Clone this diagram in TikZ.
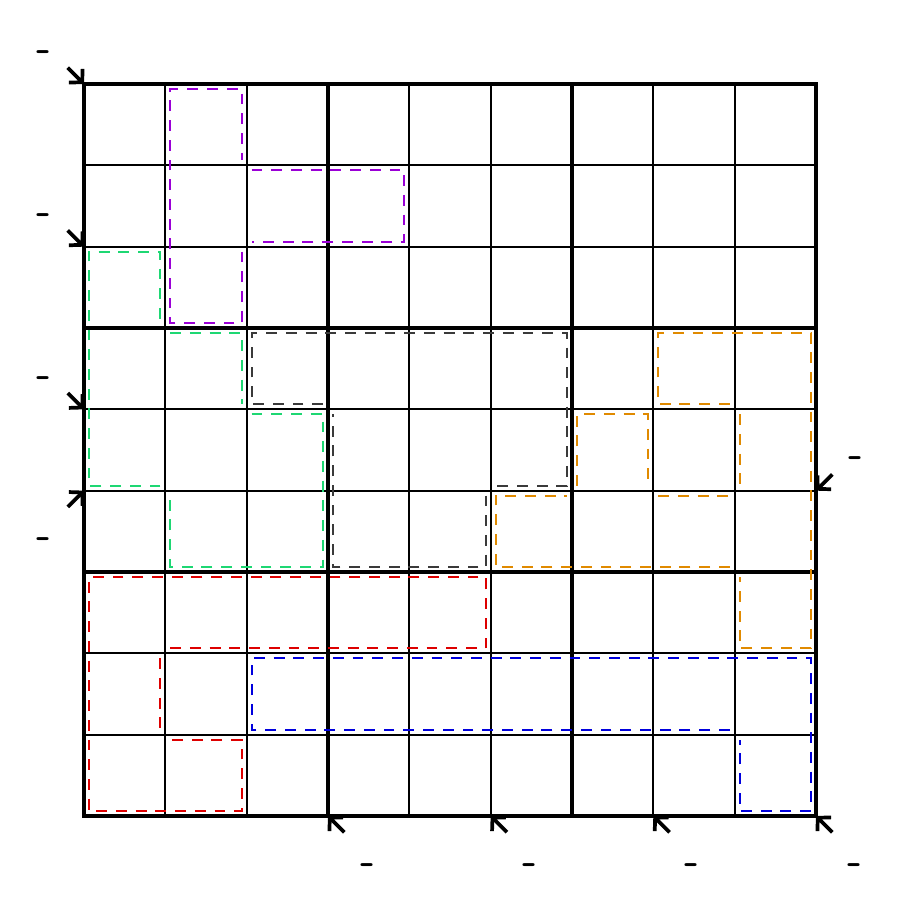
\documentclass[tikz,border=0pt]{standalone}
\usepackage{tikz}
\usetikzlibrary{arrows.meta}
\usepackage{xcolor}
\definecolor{cgpurple}{HTML}{9A00D6}
\definecolor{cggreen}{HTML}{1ED773}
\definecolor{cggray}{HTML}{3A3A3A}
\definecolor{cgorange}{HTML}{E08A00}
\definecolor{cgred}{HTML}{DD0000}
\definecolor{cgblue}{HTML}{0000DD}
\tikzset{
  cellln/.style={line width=0.7pt,color=black},
  boxln/.style={line width=1.7pt,color=black},
  cage/.style={draw=#1,line width=0.7pt,dash pattern=on 3.8pt off 3.1pt},
  clue/.style={line width=1.3pt,color=black,
               -{Straight Barb[length=3.2pt,width=6.8pt]}},
  sumlbl/.style={font=\sffamily\bfseries\Large,inner sep=0pt},
}

\begin{document}
\begin{tikzpicture}[x=1cm,y=1cm]
  \useasboundingbox (-1.033,-1.033) rectangle (10.033,10.033);

  % grid
  \draw[cellln] (0,0) grid (9,9);
  \draw[boxln] (0,0) grid[step=3] (9,9);
  \draw[boxln] (0,0) rectangle (9,9);

  % cages
  \draw[cage=cgpurple] (2.06,7.94) -- (3.94,7.94) -- (3.94,7.06) -- (2.06,7.06)
    (1.94,6.94) -- (1.94,6.06) -- (1.06,6.06) -- (1.06,8.94) -- (1.94,8.94) -- (1.94,8.06);
  \draw[cage=cggreen] (1.06,5.94) -- (1.94,5.94) -- (1.94,5.06)
    (2.06,4.94) -- (2.94,4.94) -- (2.94,3.06) -- (1.06,3.06) -- (1.06,3.94)
    (0.94,4.06) -- (0.06,4.06) -- (0.06,6.94) -- (0.94,6.94) -- (0.94,6.06);
  \draw[cage=cggray] (4.94,3.94) -- (4.94,3.06) -- (3.06,3.06) -- (3.06,4.94)
    (2.94,5.06) -- (2.06,5.06) -- (2.06,5.94) -- (5.94,5.94) -- (5.94,4.06) -- (5.06,4.06);
  \draw[cage=cgorange] (7.94,3.06) -- (5.06,3.06) -- (5.06,3.94) -- (5.94,3.94)
    (6.06,4.06) -- (6.06,4.94) -- (6.94,4.94) -- (6.94,4.06)
    (7.94,5.06) -- (7.06,5.06) -- (7.06,5.94) -- (8.94,5.94) -- (8.94,2.06) -- (8.06,2.06) -- (8.06,2.94)
    (7.06,3.94) -- (7.94,3.94)
    (8.06,4.94) -- (8.06,4.06);
  \draw[cage=cgred] (1.06,2.06) -- (4.94,2.06) -- (4.94,2.94) -- (0.06,2.94) -- (0.06,0.06)
    -- (1.94,0.06) -- (1.94,0.94) -- (1.06,0.94)
    (0.94,1.94) -- (0.94,1.06);
  \draw[cage=cgblue] (7.94,1.06) -- (2.06,1.06) -- (2.06,1.94) -- (8.94,1.94) -- (8.94,0.06)
    -- (8.06,0.06) -- (8.06,0.94);

  % little killer clues, left side
  \coordinate (tipA) at (0,9);   \coordinate (tailA) at (-0.2,9.2);
  \coordinate (tipB) at (0,7);   \coordinate (tailB) at (-0.2,7.2);
  \coordinate (tipC) at (0,5);   \coordinate (tailC) at (-0.2,5.2);
  \coordinate (tipD) at (0,4);   \coordinate (tailD) at (-0.2,3.8);
  \draw[clue] (tailA) -- (tipA);
  \draw[clue] (tailB) -- (tipB);
  \draw[clue] (tailC) -- (tipC);
  \draw[clue] (tailD) -- (tipD);
  \node[sumlbl] (sumA) at (-0.49,9.34) {-};
  \node[sumlbl] (sumB) at (-0.49,7.34) {-};
  \node[sumlbl] (sumC) at (-0.49,5.34) {-};
  \node[sumlbl] (sumD) at (-0.49,3.35) {-};

  % right side
  \coordinate (tipE) at (9,4);   \coordinate (tailE) at (9.2,4.2);
  \draw[clue] (tailE) -- (tipE);
  \node[sumlbl] (sumE) at (9.49,4.35) {-};

  % bottom
  \coordinate (tipF) at (3,0);   \coordinate (tailF) at (3.2,-0.2);
  \coordinate (tipG) at (5,0);   \coordinate (tailG) at (5.2,-0.2);
  \coordinate (tipH) at (7,0);   \coordinate (tailH) at (7.2,-0.2);
  \coordinate (tipI) at (9,0);   \coordinate (tailI) at (9.2,-0.2);
  \draw[clue] (tailF) -- (tipF);
  \draw[clue] (tailG) -- (tipG);
  \draw[clue] (tailH) -- (tipH);
  \draw[clue] (tailI) -- (tipI);
  \node[sumlbl] (sumF) at (3.49,-0.65) {-};
  \node[sumlbl] (sumG) at (5.48,-0.65) {-};
  \node[sumlbl] (sumH) at (7.48,-0.65) {-};
  \node[sumlbl] (sumI) at (9.48,-0.65) {-};
\end{tikzpicture}
\end{document}
